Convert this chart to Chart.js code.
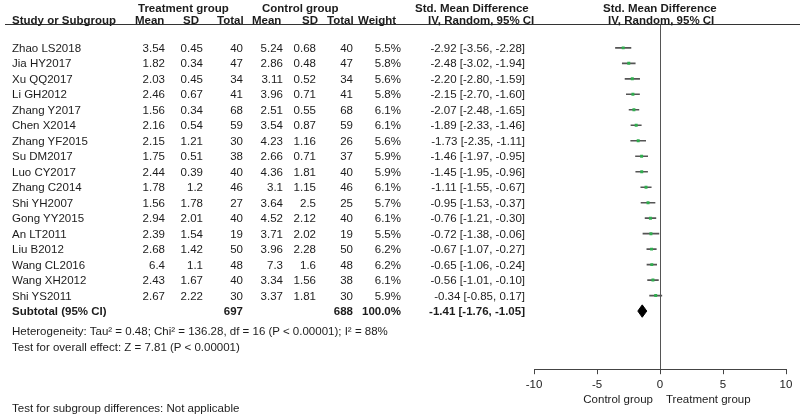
<!DOCTYPE html>
<html><head><meta charset="utf-8">
<script src="https://cdn.jsdelivr.net/npm/chart.js@4.4.1/dist/chart.umd.min.js"></script>
<style>
html,body{margin:0;padding:0;background:#fff;}
#wrap{position:relative;width:800px;height:414px;overflow:hidden;font-family:"Liberation Sans",Arial,sans-serif;font-size:11.5px;color:#1c1c1c;}
#c{position:absolute;left:0;top:0;}
.t{position:absolute;white-space:nowrap;line-height:13px;transform:translateY(-50%);}
.b{font-weight:bold;}
.r{text-align:right;}
#hline{position:absolute;left:5px;right:0;top:24px;height:0;border-top:1px solid #333;}
</style></head><body>
<div id="wrap"><canvas id="c" width="800" height="414"></canvas><div id="hline"></div><div id="txt"></div></div>
<script>
const studies = ["Zhao LS2018","Jia HY2017","Xu QQ2017","Li GH2012","Zhang Y2017","Chen X2014","Zhang YF2015","Su DM2017","Luo CY2017","Zhang C2014","Shi YH2007","Gong YY2015","An LT2011","Liu B2012","Wang CL2016","Wang XH2012","Shi YS2011"];
const treatMean  = [3.54,1.82,2.03,2.46,1.56,2.16,2.15,1.75,2.44,1.78,1.56,2.94,2.39,2.68,6.4,2.43,2.67];
const treatSD    = [0.45,0.34,0.45,0.67,0.34,0.54,1.21,0.51,0.39,1.2,1.78,2.01,1.54,1.42,1.1,1.67,2.22];
const treatTotal = [40,47,34,41,68,59,30,38,40,46,27,40,19,50,48,40,30];
const ctrlMean   = [5.24,2.86,3.11,3.96,2.51,3.54,4.23,2.66,4.36,3.1,3.64,4.52,3.71,3.96,7.3,3.34,3.37];
const ctrlSD     = [0.68,0.48,0.52,0.71,0.55,0.87,1.16,0.71,1.81,1.15,2.5,2.12,2.02,2.28,1.6,1.56,1.81];
const ctrlTotal  = [40,47,34,41,68,59,26,37,40,46,25,40,19,50,48,38,30];
const weights    = [5.5,5.8,5.6,5.8,6.1,6.1,5.6,5.9,5.9,6.1,5.7,6.1,5.5,6.2,6.2,6.1,5.9];
const smd        = [-2.92,-2.48,-2.20,-2.15,-2.07,-1.89,-1.73,-1.46,-1.45,-1.11,-0.95,-0.76,-0.72,-0.67,-0.65,-0.56,-0.34];
const ciLow      = [-3.56,-3.02,-2.80,-2.70,-2.48,-2.33,-2.35,-1.97,-1.95,-1.55,-1.53,-1.21,-1.38,-1.07,-1.06,-1.01,-0.85];
const ciHigh     = [-2.28,-1.94,-1.59,-1.60,-1.65,-1.46,-1.11,-0.95,-0.96,-0.67,-0.37,-0.30,-0.06,-0.27,-0.24,-0.10,0.17];
const subtotalTotals = [697, 688];
const subtotalWeight = [100.0];
const subtotalEffect = [-1.41, -1.76, -1.05]; // estimate, low, high
const xTicks = [-10, -5, 0, 5, 10];

const subRow = studies.length;           // row index of subtotal
const diamondHalf = 0.4;

const ciData = [];
studies.forEach((s, i) => {
  ciData.push({x: ciLow[i], y: i}, {x: ciHigh[i], y: i}, {x: NaN, y: NaN});
});
const ptData = studies.map((s, i) => ({x: smd[i], y: i}));
const diamond = [
  {x: subtotalEffect[1], y: subRow},
  {x: subtotalEffect[0], y: subRow - diamondHalf},
  {x: subtotalEffect[2], y: subRow},
  {x: subtotalEffect[0], y: subRow + diamondHalf},
  {x: subtotalEffect[1], y: subRow}
];

const FONT = 'Liberation Sans, Arial, sans-serif';
const chart = new Chart(document.getElementById('c'), {
  type: 'scatter',
  data: {
    datasets: [
      {data: ciData, showLine: true, borderColor: '#555', borderWidth: 1.6, pointRadius: 0, spanGaps: false, order: 2},
      {data: ptData, pointStyle: 'rect', pointRadius: 2.1, backgroundColor: '#2fae4e', borderWidth: 0, order: 1},
      {data: diamond, showLine: true, fill: 'shape', borderColor: '#000', backgroundColor: '#000', borderWidth: 1, pointRadius: 0, tension: 0, order: 0}
    ]
  },
  options: {
    responsive: false,
    animation: false,
    events: [],
    layout: {padding: {left: 534, right: 14, top: 24, bottom: 18}},
    plugins: {legend: {display: false}, tooltip: {enabled: false}},
    scales: {
      x: {
        type: 'linear', min: xTicks[0], max: xTicks[xTicks.length - 1],
        afterBuildTicks: (axis) => { axis.ticks = xTicks.map(v => ({value: v})); },
        ticks: {color: '#222', font: {size: 11.5, family: FONT}, padding: 4, maxRotation: 0},
        grid: {
          color: (ctx) => (ctx.tick && ctx.tick.value === 0) ? '#555' : 'rgba(0,0,0,0)',
          tickColor: '#444', tickLength: 5, lineWidth: 1
        },
        border: {display: true, color: '#444', width: 1}
      },
      y: {
        type: 'linear', display: false, reverse: true,
        min: -1.542, max: 20.755
      }
    }
  }
});

// ---- table text built from the arrays, rows placed by the chart's y scale ----
const txt = document.getElementById('txt');
function put(s, x, y, opts = {}) {
  const d = document.createElement('div');
  d.className = 't' + (opts.bold ? ' b' : '') + (opts.right ? ' r' : '');
  d.textContent = s;
  if (opts.right) d.style.right = (800 - x) + 'px'; else d.style.left = x + 'px';
  d.style.top = y + 'px';
  txt.appendChild(d);
}
const col = {tMean: 165, tSD: 203, tTot: 243, cMean: 283, cSD: 316, cTot: 353, w: 401, ci: 525};
const fmt2 = v => v.toFixed(2);
const ciStr = (e, l, h) => fmt2(e) + ' [' + fmt2(l) + ', ' + fmt2(h) + ']';

// headers
put('Treatment group', 138, 7.5, {bold: true});
put('Control group', 262, 7.5, {bold: true});
put('Std. Mean Difference', 415, 7.5, {bold: true});
put('Std. Mean Difference', 603, 7.5, {bold: true});
const hy = 19.5;
put('Study or Subgroup', 12, hy, {bold: true});
put('Mean', 135, hy, {bold: true});
put('SD', 183, hy, {bold: true});
put('Total', 217, hy, {bold: true});
put('Mean', 252, hy, {bold: true});
put('SD', 302, hy, {bold: true});
put('Total', 327, hy, {bold: true});
put('Weight', 358, hy, {bold: true});
put('IV, Random, 95% CI', 428, hy, {bold: true});
put('IV, Random, 95% CI', 608, hy, {bold: true});

const ys = chart.scales.y, xs = chart.scales.x;
studies.forEach((s, i) => {
  const y = ys.getPixelForValue(i);
  put(s, 12, y);
  put(String(treatMean[i]), col.tMean, y, {right: true});
  put(String(treatSD[i]), col.tSD, y, {right: true});
  put(String(treatTotal[i]), col.tTot, y, {right: true});
  put(String(ctrlMean[i]), col.cMean, y, {right: true});
  put(String(ctrlSD[i]), col.cSD, y, {right: true});
  put(String(ctrlTotal[i]), col.cTot, y, {right: true});
  put(weights[i].toFixed(1) + '%', col.w, y, {right: true});
  put(ciStr(smd[i], ciLow[i], ciHigh[i]), col.ci, y, {right: true});
});
const sy = ys.getPixelForValue(subRow);
put('Subtotal (95% CI)', 12, sy, {bold: true});
put(String(subtotalTotals[0]), col.tTot, sy, {bold: true, right: true});
put(String(subtotalTotals[1]), col.cTot, sy, {bold: true, right: true});
put(subtotalWeight[0].toFixed(1) + '%', col.w, sy, {bold: true, right: true});
put(ciStr(subtotalEffect[0], subtotalEffect[1], subtotalEffect[2]), col.ci, sy, {bold: true, right: true});

put('Heterogeneity: Tau\u00b2 = 0.48; Chi\u00b2 = 136.28, df = 16 (P < 0.00001); I\u00b2 = 88%', 12, 331);
put('Test for overall effect: Z = 7.81 (P < 0.00001)', 12, 346.5);
put('Test for subgroup differences: Not applicable', 12, 407.5);

const zx = xs.getPixelForValue(0);
put('Control group', zx - 7, 399, {right: true});
put('Treatment group', zx + 6, 399);
</script>
</body></html>
